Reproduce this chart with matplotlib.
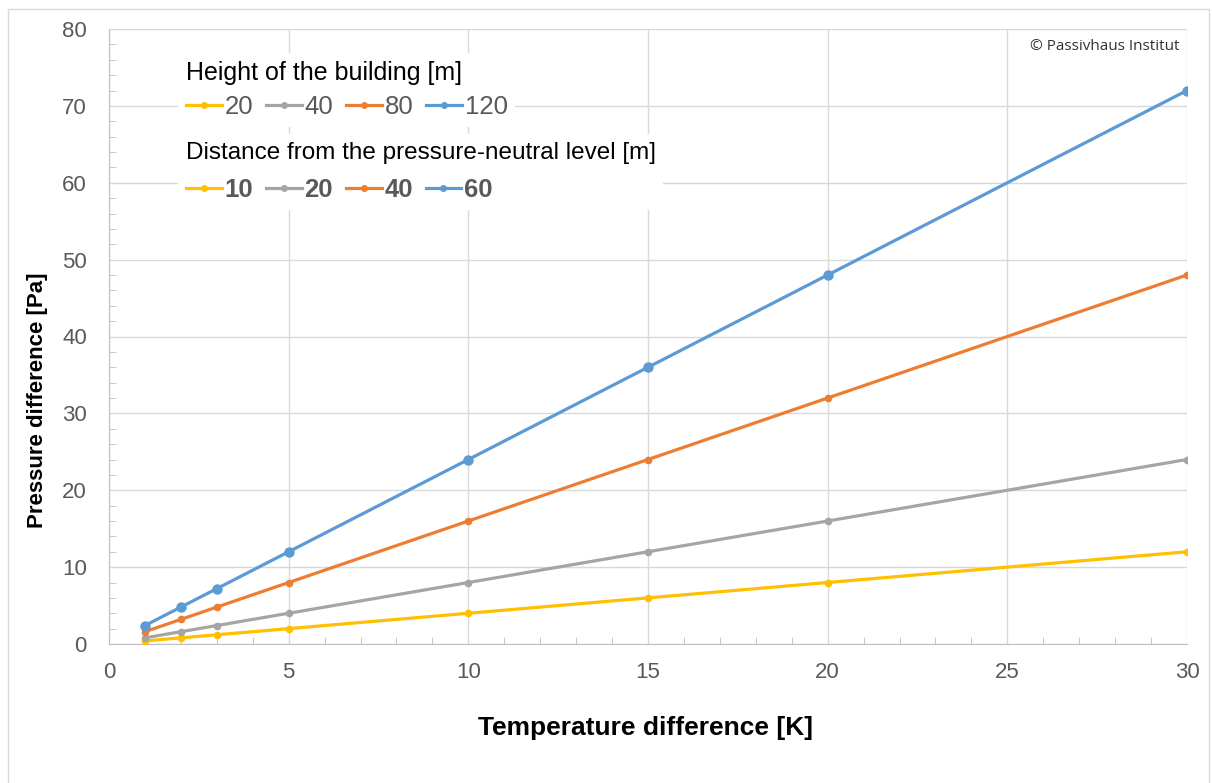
import matplotlib
matplotlib.use('Agg')
import matplotlib.pyplot as plt
from matplotlib.lines import Line2D
from matplotlib.patches import Rectangle
from matplotlib.ticker import MultipleLocator

# data: stack effect pressure difference
temp_diff = [1, 2, 3, 5, 10, 15, 20, 30]
dp_20 = [0.4, 0.8, 1.2, 2, 4, 6, 8, 12]
dp_40 = [0.8, 1.6, 2.4, 4, 8, 12, 16, 24]
dp_80 = [1.6, 3.2, 4.8, 8, 16, 24, 32, 48]
dp_120 = [2.4, 4.8, 7.2, 12, 24, 36, 48, 72]

heights = ['20', '40', '80', '120']
distances = ['10', '20', '40', '60']
colors = ['#FFC000', '#A5A5A5', '#ED7D31', '#5B9BD5']
msizes = [4.5, 4.5, 4.5, 6.5]

plt.rcParams['font.family'] = ['Liberation Sans', 'DejaVu Sans']

fig = plt.figure(figsize=(12.12, 7.83), dpi=100)
ax = fig.add_axes([109 / 1212, 1 - 644 / 783, (1187 - 109) / 1212, (644 - 29) / 783])

series = [dp_20, dp_40, dp_80, dp_120]
for vals, c, ms in zip(series, colors, msizes):
    ax.plot(temp_diff, vals, color=c, lw=2.3, marker='o', ms=ms, zorder=3)

ax.set_xlim(0, 30)
ax.set_ylim(0, 80)
ax.xaxis.set_major_locator(MultipleLocator(5))
ax.xaxis.set_minor_locator(MultipleLocator(1))
ax.yaxis.set_major_locator(MultipleLocator(10))
ax.yaxis.set_minor_locator(MultipleLocator(2))
ax.grid(True, which='major', color='#D9D9D9', lw=1)
ax.set_axisbelow(True)
for s in ['top', 'right']:
    ax.spines[s].set_visible(False)
for s in ['left', 'bottom']:
    ax.spines[s].set_color('#BFBFBF')
ax.tick_params(which='major', length=0, labelsize=16, labelcolor='#595959')
ax.tick_params(axis='x', which='major', pad=13)
ax.tick_params(axis='y', which='major', pad=16)
ax.tick_params(which='minor', direction='in', length=5, color='#BFBFBF')

# axis titles placed in figure pixels
fig.text(645 / 1212, 1 - 728 / 783, 'Temperature difference [K]', fontsize=19,
         fontweight='bold', ha='center', va='center')
fig.text(38 / 1212, 1 - 400 / 783, 'Pressure difference [Pa]', fontsize=16,
         fontweight='bold', ha='center', va='center', rotation=90)

ax.text(1180 / 1212, 1 - 46 / 783, '\u00a9 Passivhaus Institut', transform=fig.transFigure,
        ha='right', va='center', fontsize=11, family=['Open Sans', 'DejaVu Sans'], color='#333333')

# two legends
def handles():
    return [Line2D([], [], color=c, lw=2.3, marker='o', ms=4) for c in colors]

leg1 = ax.legend(handles(), heights, title='Height of the building [m]', ncol=4,
                 loc='upper left', bbox_to_anchor=(178 / 1212, 1 - 53 / 783),
                 bbox_transform=fig.transFigure, fontsize=18.5, title_fontsize=18,
                 labelcolor='#595959', handlelength=1.4, handletextpad=0.1,
                 columnspacing=0.5, alignment='left', frameon=True, fancybox=False,
                 borderpad=0.3, borderaxespad=0, labelspacing=0.4)
leg1.get_frame().set_facecolor('white')
leg1.get_frame().set_edgecolor('none')
leg1.get_frame().set_alpha(1)
ax.add_artist(leg1)

leg2 = ax.legend(handles(), distances, title='Distance from the pressure-neutral level [m]', ncol=4,
                 loc='upper left', bbox_to_anchor=(178 / 1212, 1 - 134 / 783),
                 bbox_transform=fig.transFigure, title_fontsize=17.5,
                 labelcolor='#595959', handlelength=1.4, handletextpad=0.1,
                 columnspacing=0.5, alignment='left', frameon=True, fancybox=False,
                 borderpad=0.3, borderaxespad=0, labelspacing=0.55,
                 prop={'weight': 'bold', 'size': 18.5})
leg2.get_frame().set_facecolor('white')
leg2.get_frame().set_edgecolor('none')
leg2.get_frame().set_alpha(1)

# outer border
fig.add_artist(Rectangle((8 / 1212, -0.01), (1209 - 8) / 1212, 1 - 9 / 783 + 0.01,
                         transform=fig.transFigure, fill=False, edgecolor='#D9D9D9', lw=1))

fig.savefig('out.png', dpi=100)
